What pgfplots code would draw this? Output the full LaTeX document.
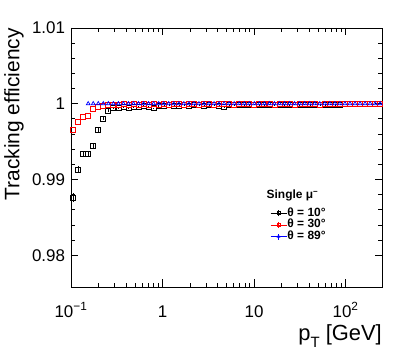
\documentclass[border=0pt]{standalone}
\usepackage{fontspec}
\setmainfont{Liberation Sans}
\usepackage{pgfplots}
\usepackage{pgfplotstable}
\pgfplotsset{compat=1.18}

% efficiency vs pT, single muons
\pgfplotstableread{
x y e
0.1054 0.9876 0.0006
0.1197 0.9913 0.0005
0.1358 0.9934 0.0004
0.1542 0.9934 0.0004
0.1750 0.9944 0.0004
0.1986 0.9965 0.0003
0.2254 0.9980 0.0002
0.2559 0.9991 0.0002
0.2904 0.9994 0.0001
0.3296 0.9995 0.0001
0.3741 0.9996 0.0001
0.4246 0.9995 0.0001
0.4819 0.9996 0.0001
0.5470 0.9996 0.0001
0.6209 0.9997 0.0001
0.7047 0.9996 0.0001
0.7998 0.9994 0.0001
0.9078 0.9997 0.0001
1.030 0.9997 0.0001
1.169 0.9998 0.0001
1.327 0.9997 0.0001
1.507 0.9997 0.0001
1.710 0.9998 0.0001
1.941 0.9997 0.0001
2.203 0.9998 0.0001
2.500 0.9998 0.0001
2.838 0.9997 0.0001
3.221 0.9998 0.0001
3.656 0.9998 0.0001
4.150 0.9997 0.0001
4.710 0.9996 0.0001
5.346 0.9998 0.0001
6.067 0.9998 0.0001
6.887 0.9999 0.0001
7.816 0.9998 0.0001
8.872 0.9998 0.0001
10.07 0.9999 0.0001
11.43 0.9998 0.0001
12.97 0.9998 0.0001
14.72 0.9999 0.0001
16.71 0.9998 0.0001
18.97 0.9999 0.0001
21.53 0.9998 0.0001
24.43 0.9998 0.0001
27.73 0.9999 0.0001
31.48 0.9998 0.0001
35.73 0.9999 0.0001
40.55 0.9998 0.0001
46.03 0.9999 0.0001
52.24 0.9998 0.0001
59.29 0.9998 0.0001
67.30 0.9999 0.0001
76.38 0.9998 0.0001
86.70 0.9999 0.0001
}\thetaten

\pgfplotstableread{
x y
0.1054 0.9965
0.1197 0.9976
0.1358 0.9982
0.1542 0.9984
0.1750 0.9993
0.1986 0.9996
0.2254 0.9997
0.2559 0.9998
0.2904 0.9999
0.3296 0.9999
0.3741 1.0000
0.4246 0.9999
0.4819 1.0000
0.5470 0.9999
0.6209 1.0000
0.7047 0.9999
0.7998 1.0000
0.9078 0.9999
1.030 1.0000
1.169 0.9999
1.327 1.0000
1.507 1.0000
1.710 0.9999
1.941 1.0000
2.203 1.0000
2.500 0.9999
2.838 1.0000
3.221 1.0000
3.656 0.9999
4.150 1.0000
4.710 1.0000
5.346 1.0000
6.067 0.9999
6.887 1.0000
7.816 1.0000
8.872 1.0000
10.07 0.9999
11.43 1.0000
12.97 1.0000
14.72 1.0000
16.71 0.9999
18.97 1.0000
21.53 1.0000
24.43 1.0000
27.73 0.9999
31.48 1.0000
35.73 1.0000
40.55 1.0000
46.03 1.0000
52.24 0.9999
59.29 1.0000
67.30 1.0000
76.38 1.0000
86.70 1.0000
98.40 1.0000
111.7 1.0000
126.8 1.0000
143.9 1.0000
163.3 1.0000
185.4 1.0000
210.4 1.0000
238.8 1.0000
}\thetathirty

\pgfplotstableread{
x y
0.1542 1.0000
0.1750 1.0000
0.1986 1.0000
0.2254 1.0000
0.2559 1.0000
0.2904 1.0000
0.3296 1.0000
0.3741 1.0000
0.4246 1.0000
0.4819 1.0000
0.5470 1.0000
0.6209 1.0000
0.7047 1.0000
0.7998 1.0000
0.9078 1.0000
1.030 1.0000
1.169 1.0000
1.327 1.0000
1.507 1.0000
1.710 1.0000
1.941 1.0000
2.203 1.0000
2.500 1.0000
2.838 1.0000
3.221 1.0000
3.656 1.0000
4.150 1.0000
4.710 1.0000
5.346 1.0000
6.067 1.0000
6.887 1.0000
7.816 1.0000
8.872 1.0000
10.07 1.0000
11.43 1.0000
12.97 1.0000
14.72 1.0000
16.71 1.0000
18.97 1.0000
21.53 1.0000
24.43 1.0000
27.73 1.0000
31.48 1.0000
35.73 1.0000
40.55 1.0000
46.03 1.0000
52.24 1.0000
59.29 1.0000
67.30 1.0000
76.38 1.0000
86.70 1.0000
98.40 1.0000
111.7 1.0000
126.8 1.0000
143.9 1.0000
163.3 1.0000
185.4 1.0000
210.4 1.0000
238.8 1.0000
}\thetaeightynine

\begin{document}
\begin{tikzpicture}
\useasboundingbox (0,0) rectangle (415bp,352bp);
\begin{axis}[
    at={(71bp,65bp)}, anchor=south west,
    width=311bp, height=259bp, scale only axis,
    xmode=log, xmin=0.1, xmax=250,
    ymin=0.9758, ymax=1.01,
    xtick={0.1,1,10,100},
    xticklabels={10\textsuperscript{−1},1,10,10\textsuperscript{2}},
    ytick={0.98,0.99,1,1.01},
    yticklabels={0.98,0.99,1,1.01},
    minor y tick num=4,
    major tick length=7.5bp, minor tick length=3.8bp,
    tick style={black, line width=0.8bp},
    axis line style={line width=0.9bp},
    ticklabel style={font=\fontsize{17}{17}\selectfont},
    xticklabel style={anchor=base, yshift=-30bp},
    yticklabel style={xshift=-2.5bp},
    xlabel={p\raisebox{-0.3em}{\fontsize{15}{15}\selectfont T} [GeV]},
    ylabel={Tracking efficiency},
    xlabel style={at={(axis description cs:1,-0.208)}, anchor=base east, inner sep=0pt, font=\fontsize{22}{22}\selectfont},
    ylabel style={at={(axis description cs:-0.151,1)}, anchor=south east, inner sep=0pt, font=\fontsize{21}{21}\selectfont},
    legend style={at={(axis description cs:0.630,0.315)}, anchor=north west,
        draw=none, fill=none, row sep=0.5bp,
        font=\fontsize{12}{12}\selectfont\bfseries,
        nodes={inner sep=0.5bp, text height=8bp, text depth=2.2bp},
        /tikz/every even column/.append style={column sep=1.5bp}},
    legend cell align=left,
    legend image code/.code={
        \draw[#1, mark=none] (0bp,0bp) -- (16bp,0bp);
        \draw[#1, mark=none] (8bp,-3bp) -- (8bp,3bp);
        \draw[#1, only marks, mark size=1.5bp] plot coordinates {(8bp,0bp)};
    },
]
\addplot[black, only marks, mark=square, mark size=2.5bp, line width=0.8bp,
    error bars/.cd, y dir=both, y explicit, error mark=none]
    table[x=x, y=y, y error=e] {\thetaten};
\addlegendentry{θ = 10°}
\addplot[red, only marks, mark=square, mark size=2.5bp, line width=0.8bp]
    table[x=x, y=y] {\thetathirty};
\addlegendentry{θ = 30°}
\addplot[blue, only marks, mark=triangle, mark size=2.2bp, line width=0.7bp]
    table[x=x, y=y] {\thetaeightynine};
\addlegendentry{θ = 89°}

\node[anchor=base west, inner sep=0pt, font=\fontsize{12}{12}\selectfont\bfseries]
    at (axis description cs:0.6286,0.3398) {Single μ\textsuperscript{−}};
\node[anchor=base west, inner sep=0pt, yshift=7bp, font=\fontsize{11}{11}\selectfont]
    at (axis description cs:0.005,1) {CLICdp};
\end{axis}
\end{tikzpicture}
\end{document}
